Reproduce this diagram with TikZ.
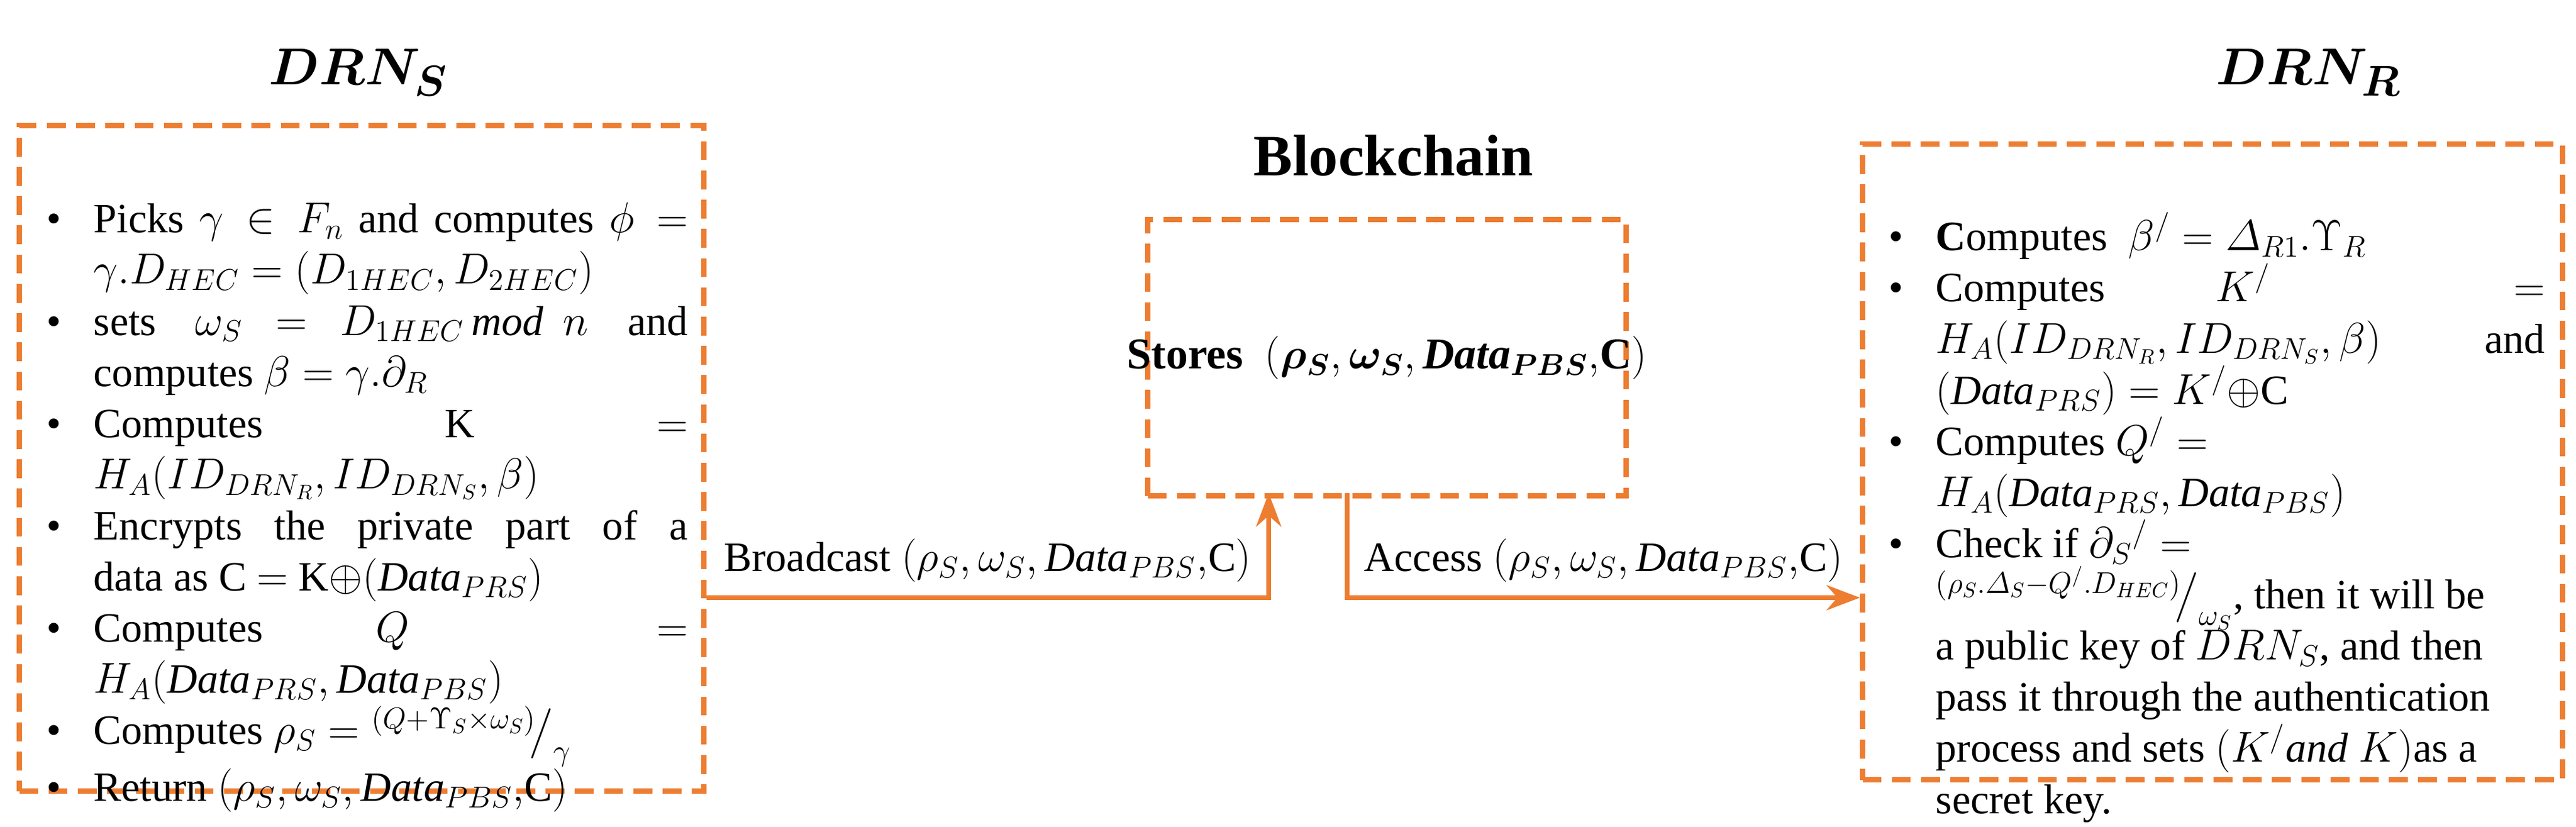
\documentclass[tikz,border=0pt]{standalone}
\usepackage{fontspec}
\setmainfont{Liberation Serif}
\usepackage{amsmath,amssymb,bm}
\usepackage{enumitem}
\usetikzlibrary{arrows.meta}
\definecolor{org}{HTML}{ED7D31}
\newcommand{\Dt}{\mathit{Data}}
\begin{document}
\begin{tikzpicture}[x=1cm,y=1cm,
  box/.style={draw=org,line width=2.6pt,dash pattern=on 9pt off 5pt},
  conn/.style={draw=org,line width=2.4pt},
  body/.style={anchor=north west,inner sep=0pt,font=\fontsize{20}{24.5}\selectfont,text width=#1,align=justify},
  title/.style={font=\fontsize{28}{34}\selectfont}]
\useasboundingbox (0,0) rectangle (43.35,-13.91);
% boxes
\node[box,minimum width=11.52cm,minimum height=11.2cm,anchor=north west] (S) at (0.28,-2.07) {};
\node[box,minimum width=8.05cm,minimum height=4.65cm,anchor=north west] (B) at (19.27,-3.65) {};
\node[box,minimum width=11.78cm,minimum height=10.7cm,anchor=north west] (R) at (31.30,-2.38) {};
% titles
\node[title] (tS) at (6.03,-1.22) {$\bm{DRN_S}$};
\node[title] (tB) at (23.45,-2.62) {\bfseries Blockchain};
\node[title] (tR) at (38.85,-1.22) {$\bm{DRN_R}$};
\node[font=\fontsize{21}{26}\selectfont\bfseries] (st) at (B.center) {Stores \ $(\bm{\rho_S},\bm{\omega_S},\bm{\mathit{Data}_{PBS}},$C$)$};
% left text
\node[body=10.95cm] (ls) at (0.62,-3.05) {%
\begin{itemize}[leftmargin=0.95cm,labelsep=0.55cm,itemsep=0pt,topsep=0pt,parsep=0pt]
\item Picks $\gamma\in F_n$ and computes $\phi=$\linebreak $\gamma.D_{HEC}=(D_{1HEC},D_{2HEC})$
\item sets \ $\omega_S=D_{1HEC}\,\mathit{mod}\ n$ \ and\linebreak computes $\beta=\gamma.\partial_R$
\item Computes K $=$\linebreak $H_A(ID_{DRN_R},ID_{DRN_S},\beta)$
\item Encrypts the private part of a\linebreak data as C $=$ K$\oplus(\Dt_{PRS})$
\item Computes $Q=$\linebreak $H_A(\Dt_{PRS},\Dt_{PBS})$
\item Computes $\rho_S={}^{(Q+\Upsilon_S\times\omega_S)}\!\big/_{\gamma}$
\item Return $(\rho_S,\omega_S,\Dt_{PBS},$C$)$
\end{itemize}};
% right text
\node[body=11.2cm] (rs) at (31.62,-3.35) {%
\begin{itemize}[leftmargin=0.95cm,labelsep=0.55cm,itemsep=0pt,topsep=0pt,parsep=0pt]
\item \textbf{C}omputes \ $\beta^{/}=\varDelta_{R1}.\Upsilon_R$
\item Computes $K^{/}=$\linebreak $H_A(ID_{DRN_R},ID_{DRN_S},\beta)$ \ and\linebreak $(\Dt_{PRS})=K^{/}\oplus$C
\item Computes $Q^{/}=$\\ $H_A(\Dt_{PRS},\Dt_{PBS})$
\item Check if $\partial_S{}^{/}=$\\ ${}^{(\rho_S.\varDelta_S-Q^{/}.D_{HEC})}\!\big/_{\omega_S}$, then it will be\\ a public key of $DRN_S$, and then\\ pass it through the authentication\\ process and sets $(K^{/}\mathit{and}\ K)$as a\\ secret key.
\end{itemize}};
% connectors
\coordinate (bx) at (21.35,-8.30);
\coordinate (ax) at (22.67,-8.30);
\draw[conn,-{Stealth[length=16pt,width=12pt]}] (S.east |- 0,-10.06) -- (bx |- 0,-10.06) node[pos=0.5,above=3pt,black,font=\fontsize{20}{26}\selectfont] (lb) {Broadcast $(\rho_S,\omega_S,\Dt_{PBS},$C$)$} -- (bx);
\draw[conn,-{Stealth[length=16pt,width=12pt]}] (ax) -- (ax |- 0,-10.06) -- (R.west |- 0,-10.06) node[pos=0.5,above=3pt,black,font=\fontsize{20}{26}\selectfont] (la) {Access $(\rho_S,\omega_S,\Dt_{PBS},$C$)$};
\end{tikzpicture}
\end{document}
